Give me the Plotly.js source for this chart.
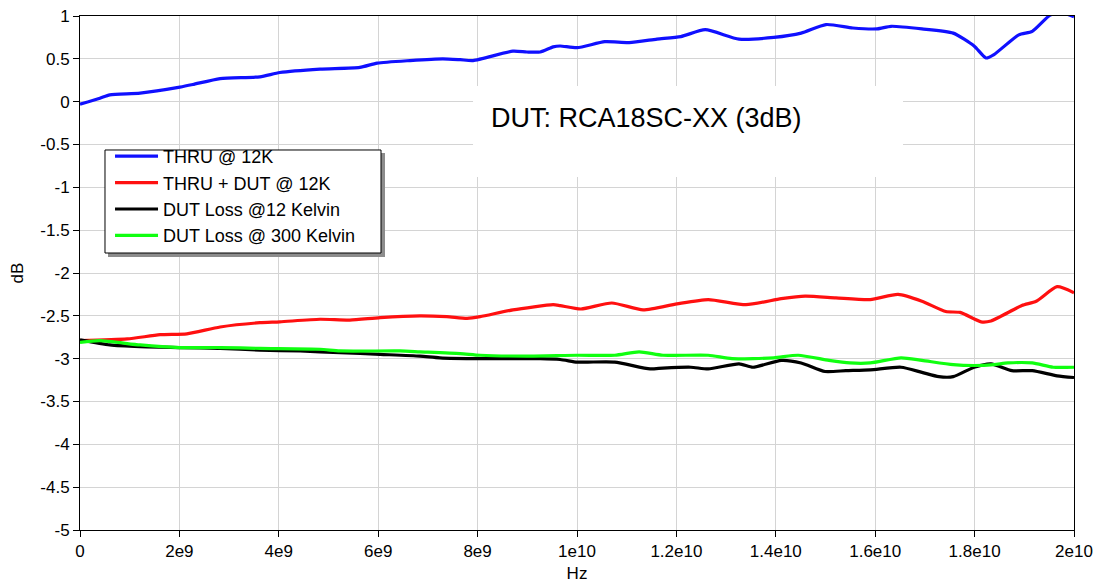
<!DOCTYPE html>
<html>
<head>
<meta charset="utf-8">
<script src="https://cdn.plot.ly/plotly-3.0.1.min.js"></script>
<style>html,body{margin:0;padding:0;background:#fff;}#chart{width:1101px;height:585px;}</style>
</head>
<body>
<div id="chart"></div>
<script>
// Frequencies in Hz, values in dB
const thruHz = [0, 0.40e9, 0.60e9, 1.21e9, 2.01e9, 2.27e9, 2.82e9, 3.62e9, 4.02e9, 4.83e9, 5.63e9, 5.98e9, 6.64e9, 7.30e9, 7.65e9, 7.91e9, 8.71e9, 8.99e9, 9.26e9, 9.52e9, 9.66e9, 10.0e9, 10.56e9, 11.05e9, 11.61e9, 12.09e9, 12.58e9, 13.26e9, 13.96e9, 14.51e9, 15.01e9, 15.55e9, 16.04e9, 16.32e9, 16.94e9, 17.57e9, 17.99e9, 18.23e9, 18.39e9, 18.89e9, 19.16e9, 19.52e9, 19.75e9, 20.0e9];
const thruDb = [-0.03, 0.04, 0.08, 0.10, 0.17, 0.20, 0.27, 0.29, 0.34, 0.38, 0.40, 0.45, 0.48, 0.50, 0.49, 0.48, 0.59, 0.58, 0.58, 0.64, 0.65, 0.63, 0.70, 0.69, 0.73, 0.76, 0.84, 0.73, 0.75, 0.80, 0.90, 0.86, 0.85, 0.88, 0.85, 0.80, 0.65, 0.51, 0.55, 0.78, 0.82, 1.01, 1.04, 0.99];

const thruDutHz = [0, 0.95e9, 1.61e9, 2.15e9, 2.82e9, 3.62e9, 4.02e9, 4.83e9, 5.43e9, 6.04e9, 6.84e9, 7.38e9, 7.79e9, 8.05e9, 8.71e9, 9.52e9, 9.66e9, 10.08e9, 10.70e9, 11.33e9, 12.01e9, 12.64e9, 13.40e9, 14.11e9, 14.59e9, 15.21e9, 15.90e9, 16.46e9, 16.94e9, 17.42e9, 17.71e9, 18.13e9, 18.33e9, 18.95e9, 19.24e9, 19.66e9, 20.0e9];
const thruDutDb = [-2.79, -2.77, -2.72, -2.71, -2.63, -2.58, -2.57, -2.54, -2.55, -2.52, -2.50, -2.51, -2.53, -2.51, -2.43, -2.37, -2.38, -2.42, -2.35, -2.43, -2.36, -2.31, -2.37, -2.30, -2.27, -2.29, -2.31, -2.25, -2.33, -2.45, -2.46, -2.57, -2.56, -2.38, -2.33, -2.16, -2.23];

const loss12Hz = [0, 0.60e9, 1.21e9, 2.01e9, 2.82e9, 3.62e9, 4.43e9, 5.23e9, 6.04e9, 6.84e9, 7.24e9, 8.05e9, 9.26e9, 9.66e9, 10.0e9, 10.22e9, 10.76e9, 11.47e9, 11.73e9, 12.29e9, 12.64e9, 13.26e9, 13.54e9, 14.11e9, 14.51e9, 14.99e9, 15.41e9, 15.90e9, 16.52e9, 16.94e9, 17.28e9, 17.57e9, 17.99e9, 18.33e9, 18.75e9, 19.16e9, 19.66e9, 20.0e9];
const loss12Db = [-2.78, -2.84, -2.86, -2.87, -2.88, -2.90, -2.91, -2.93, -2.95, -2.97, -2.99, -3.00, -3.00, -3.01, -3.04, -3.04, -3.04, -3.12, -3.11, -3.10, -3.12, -3.06, -3.10, -3.02, -3.05, -3.15, -3.14, -3.13, -3.10, -3.16, -3.21, -3.21, -3.10, -3.06, -3.14, -3.14, -3.20, -3.22];

const loss300Hz = [0, 0.40e9, 1.21e9, 2.01e9, 2.82e9, 3.62e9, 4.83e9, 5.23e9, 6.44e9, 6.84e9, 7.65e9, 8.05e9, 8.99e9, 10.0e9, 10.76e9, 11.25e9, 11.73e9, 12.64e9, 13.12e9, 13.96e9, 14.45e9, 15.07e9, 15.49e9, 15.90e9, 16.52e9, 16.94e9, 17.57e9, 17.99e9, 18.39e9, 18.67e9, 19.16e9, 19.58e9, 20.0e9];
const loss300Db = [-2.81, -2.79, -2.84, -2.87, -2.87, -2.88, -2.89, -2.91, -2.91, -2.92, -2.94, -2.96, -2.97, -2.96, -2.96, -2.92, -2.96, -2.96, -3.00, -2.99, -2.96, -3.02, -3.05, -3.05, -2.99, -3.02, -3.07, -3.08, -3.07, -3.05, -3.05, -3.10, -3.10];

const seriesNames = ['THRU @ 12K', 'THRU + DUT @ 12K', 'DUT Loss @12 Kelvin', 'DUT Loss @ 300 Kelvin'];
const seriesColors = ['#1010ff', '#ff1010', '#000000', '#10ff10'];

const xTickVals = [0, 2e9, 4e9, 6e9, 8e9, 1e10, 1.2e10, 1.4e10, 1.6e10, 1.8e10, 2e10];
const xTickText = ['0', '2e9', '4e9', '6e9', '8e9', '1e10', '1.2e10', '1.4e10', '1.6e10', '1.8e10', '2e10'];
const yTickVals = [1, 0.5, 0, -0.5, -1, -1.5, -2, -2.5, -3, -3.5, -4, -4.5, -5];
const yTickText = ['1', '0.5', '0', '-0.5', '-1', '-1.5', '-2', '-2.5', '-3', '-3.5', '-4', '-4.5', '-5'];

const noteText = 'DUT: RCA18SC-XX (3dB)';

const xs = [thruHz, thruDutHz, loss12Hz, loss300Hz];
const ys = [thruDb, thruDutDb, loss12Db, loss300Db];
const traces = xs.map((x, i) => ({
  type: 'scatter', mode: 'lines', x: x, y: ys[i], name: seriesNames[i],
  line: {color: seriesColors[i], width: 3.2, shape: 'spline', smoothing: 0.6}
}));

const font = 'Liberation Sans, Arial, sans-serif';
const layout = {
  width: 1101, height: 585,
  margin: {l: 80, r: 27, t: 16, b: 55},
  paper_bgcolor: '#ffffff', plot_bgcolor: '#ffffff',
  font: {family: font, color: '#000', size: 17},
  showlegend: true,
  legend: {
    x: 0.0302, y: 0.7626, xanchor: 'left', yanchor: 'top',
    bgcolor: 'rgba(0,0,0,0)', borderwidth: 0, itemwidth: 43,
    font: {family: font, size: 18, color: '#000'}, tracegroupgap: 0
  },
  xaxis: {
    range: [0, 2e10], tickvals: xTickVals, ticktext: xTickText,
    showgrid: true, gridcolor: '#d4d4d4', gridwidth: 1,
    showline: true, linecolor: '#000', linewidth: 1, mirror: true,
    ticks: 'outside', ticklen: 6, tickcolor: '#000',
    zeroline: false, tickfont: {size: 17},
    title: {text: 'Hz', font: {size: 17}, standoff: 6}
  },
  yaxis: {
    range: [-5, 1], tickvals: yTickVals, ticktext: yTickText,
    showgrid: true, gridcolor: '#d4d4d4', gridwidth: 1,
    showline: true, linecolor: '#000', linewidth: 1, mirror: true,
    ticks: 'outside', ticklen: 6, tickcolor: '#000',
    zeroline: false, tickfont: {size: 17},
    title: {text: 'dB', font: {size: 17}, standoff: 12}
  },
  shapes: [
    // white note box covering the grid
    {type: 'rect', xref: 'paper', yref: 'paper', x0: 0.3954, x1: 0.828, y0: 0.6868, y1: 0.8638,
     fillcolor: '#ffffff', line: {width: 0}, layer: 'above'},
    // legend shadow
    {type: 'rect', xref: 'paper', yref: 'paper', x0: 0.02817, x1: 0.30684, y0: 0.53113, y1: 0.73346,
     fillcolor: '#8c8c8c', line: {width: 0}, layer: 'above'},
    // legend frame
    {type: 'rect', xref: 'paper', yref: 'paper', x0: 0.02515, x1: 0.30282, y0: 0.53891, y1: 0.73930,
     fillcolor: '#ffffff', line: {color: '#000', width: 1}, layer: 'above'}
  ],
  annotations: [
    {xref: 'paper', yref: 'paper', x: 0.5704, y: 0.8016, xanchor: 'center', yanchor: 'middle',
     text: noteText, showarrow: false, font: {family: font, size: 27, color: '#000'}}
  ]
};

Plotly.newPlot('chart', traces, layout, {displayModeBar: false, staticPlot: true});
</script>
</body>
</html>
